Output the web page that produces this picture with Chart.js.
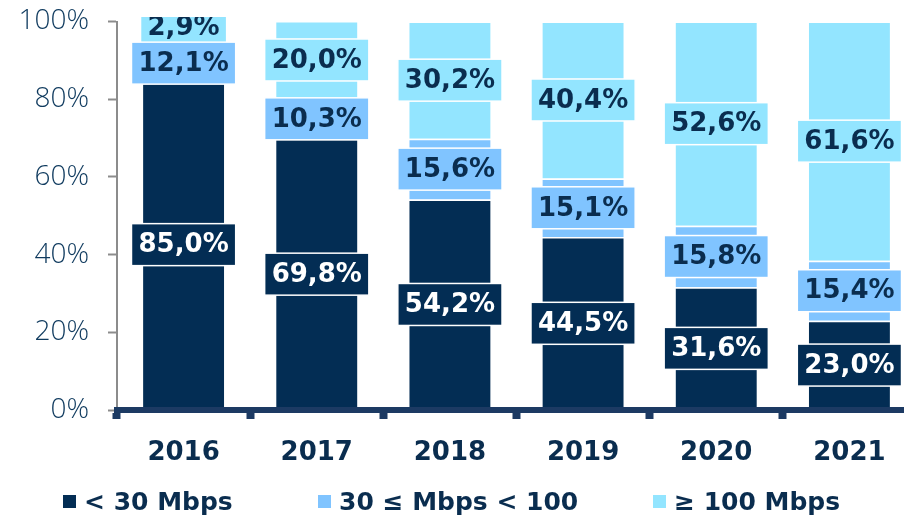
<!DOCTYPE html>
<html><head><meta charset="utf-8">
<script src="https://cdn.jsdelivr.net/npm/chart.js@4.4.1/dist/chart.umd.min.js"></script>
<style>
html,body{margin:0;padding:0;background:#fff;overflow:hidden;width:904px;height:516px;}
#wrap{position:relative;width:916px;height:516px;}
#legend{position:absolute;left:0;top:483px;width:904px;height:36px;font:700 25px "DejaVu Sans";color:#0A2D4F;}
.item{position:absolute;top:0;height:36px;display:flex;align-items:center;white-space:nowrap;}
.sw{width:13px;height:13px;margin-right:8px;flex:none;}
</style></head>
<body>
<div id="wrap"><canvas id="c" width="916" height="516"></canvas><div id="legend"></div></div>
<script>
const years = ['2016','2017','2018','2019','2020','2021'];
const seriesNames = ['< 30 Mbps','30 ≤ Mbps < 100','≥ 100 Mbps'];
const below30 = [85.0,69.8,54.2,44.5,31.6,23.0];
const from30to100 = [12.1,10.3,15.6,15.1,15.8,15.4];
const above100 = [2.9,20.0,30.2,40.4,52.6,61.6];
const yTickValues = [0,20,40,60,80,100];

const NAVY='#032D54', MID='#80C4FF', CYAN='#93E5FF', TEXT='#0A2D4F';
const colors=[NAVY,MID,CYAN];
const labelText=['#FFFFFF',TEXT,TEXT];

const fmt = v => v.toFixed(1).replace('.',',') + '%';

const boxLabels = {
  id:'boxLabels',
  afterDatasetsDraw(chart){
    const ctx=chart.ctx, area=chart.chartArea;
    ctx.save();
    ctx.beginPath(); ctx.rect(0, area.top-4.5, chart.width, chart.height); ctx.clip();
    ctx.font='bold 26px "DejaVu Sans"';
    ctx.textAlign='center'; ctx.textBaseline='middle';
    const H=42;
    chart.data.labels.forEach((lab,j)=>{
      let prevBottom=-Infinity;
      for(let i=chart.data.datasets.length-1;i>=0;i--){
        const el=chart.getDatasetMeta(i).data[j];
        const v=chart.data.datasets[i].data[j];
        let cy=(el.y+el.base)/2;
        if(cy-H/2 < prevBottom-6) cy = prevBottom-6+H/2;
        prevBottom=cy+H/2;
        const t=fmt(v);
        const w=ctx.measureText(t).width+14;
        ctx.fillStyle=colors[i];
        ctx.fillRect(el.x-w/2, cy-H/2, w, H);
        ctx.strokeStyle='#FFFFFF'; ctx.lineWidth=1.5;
        ctx.strokeRect(el.x-w/2, cy-H/2, w, H);
        ctx.fillStyle=labelText[i];
        ctx.fillText(t, el.x, cy+1);
      }
    });
    ctx.restore();
  }
};

const chart = new Chart(document.getElementById('c'), {
  type:'bar',
  data:{
    labels:years,
    datasets:[below30,from30to100,above100].map((d,i)=>({
      label:seriesNames[i], data:d, backgroundColor:colors[i],
      borderColor:'#FFFFFF', borderWidth:1.5,
      categoryPercentage:1, barPercentage:0.63
    }))
  },
  options:{
    responsive:false, animation:false, devicePixelRatio:1,
    layout:{padding:{top:21.5,left:0,right:0,bottom:27.8}},
    plugins:{legend:{display:false}, tooltip:{enabled:false}},
    scales:{
      x:{
        stacked:true,
        grid:{display:true, drawOnChartArea:false, drawTicks:true, tickLength:9, tickWidth:8, tickColor:'#1C3A63', offset:true},
        border:{display:true, color:'#1C3A63', width:6, z:1},
        ticks:{color:TEXT, font:{family:'DejaVu Sans', size:26, weight:'bold'}, padding:19},
        afterFit:s=>{s.paddingLeft=0; s.paddingRight=0;}
      },
      y:{
        stacked:true, min:0, max:100,
        afterFit:s=>{s.width=117; s.paddingTop=0; s.paddingBottom=0;},
        afterBuildTicks:s=>{s.ticks=yTickValues.map(v=>({value:v}));},
        grid:{display:true, drawOnChartArea:false, drawTicks:true, tickLength:9, tickWidth:2, tickColor:'#8C8C8C'},
        border:{display:true, color:'#8C8C8C', width:2},
        ticks:{color:'#0F3A5E', font:{family:'Open Sans', size:28, weight:'300'}, padding:19, callback:v=>v+'%'}
      }
    }
  },
  plugins:[boxLabels]
});

const lefts=[63,318,653];
const leg=document.getElementById('legend');
seriesNames.forEach((n,i)=>{
  const it=document.createElement('div'); it.className='item'; it.style.left=lefts[i]+'px';
  const sw=document.createElement('span'); sw.className='sw'; sw.style.background=colors[i];
  const tx=document.createElement('span'); tx.textContent=n;
  it.appendChild(sw); it.appendChild(tx); leg.appendChild(it);
});
</script>
</body></html>
